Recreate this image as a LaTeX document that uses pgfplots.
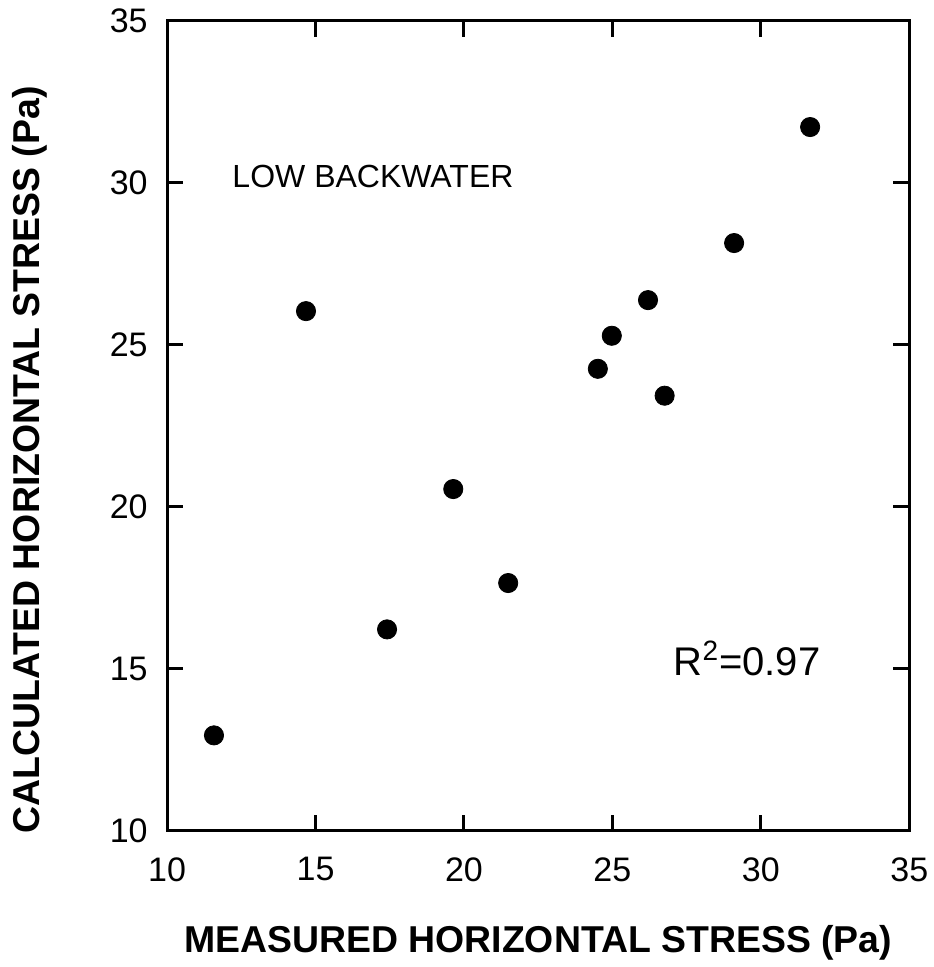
\documentclass[border=0pt]{standalone}
\usepackage{pgfplots}
\pgfplotsset{compat=1.18}
\usepackage{fontspec}
\setmainfont{Liberation Sans}
\begin{document}
\begin{tikzpicture}
\begin{axis}[
  scale only axis,
  width=371pt, height=405pt,
  xmin=10, xmax=35, ymin=10, ymax=35,
  xtick={10,15,20,25,30,35}, ytick={10,15,20,25,30,35},
  tick align=inside,
  major tick length=8pt,
  axis line style={line width=1.5pt},
  every tick/.style={line width=1.5pt, black},
  /pgf/number format/assume math mode=true,
  ticklabel style={font=\fontsize{17}{20}\selectfont, inner sep=0pt},
  xticklabel style={anchor=north, yshift=-13pt},
  yticklabel style={anchor=east, xshift=-9.5pt},
  xlabel={\textbf{MEASURED HORIZONTAL STRESS (Pa)}},
  ylabel={\textbf{CALCULATED HORIZONTAL STRESS (Pa)}},
  label style={font=\fontsize{18.7}{22}\selectfont, inner sep=0pt},
  xlabel style={at={(rel axis cs:0.5,-0.1494)}, anchor=base},
  ylabel style={at={(rel axis cs:-0.1846,0.458)}, anchor=center, rotate=0},
  clip=false,
]
\addplot[only marks, mark=*, mark size=4.8pt, black] coordinates {
  (11.58,12.95) (14.68,26.04) (17.41,16.22) (19.64,20.55) (21.49,17.65)
  (24.51,24.26) (24.98,25.28) (26.20,26.38) (26.76,23.43) (29.10,28.14)
  (31.66,31.72)
};
\node[anchor=base west, font=\fontsize{16}{19}\selectfont, inner sep=0pt] at (axis cs:12.19,29.84) {LOW BACKWATER};
\node[anchor=base west, font=\fontsize{20}{24}\selectfont, inner sep=0pt] at (axis cs:27.05,14.80) {R\textsuperscript{2}=0.97};
\path (rel axis cs:-0.2251,-0.1679) rectangle (rel axis cs:1.0323,1.0256);
\end{axis}
\end{tikzpicture}
\end{document}
